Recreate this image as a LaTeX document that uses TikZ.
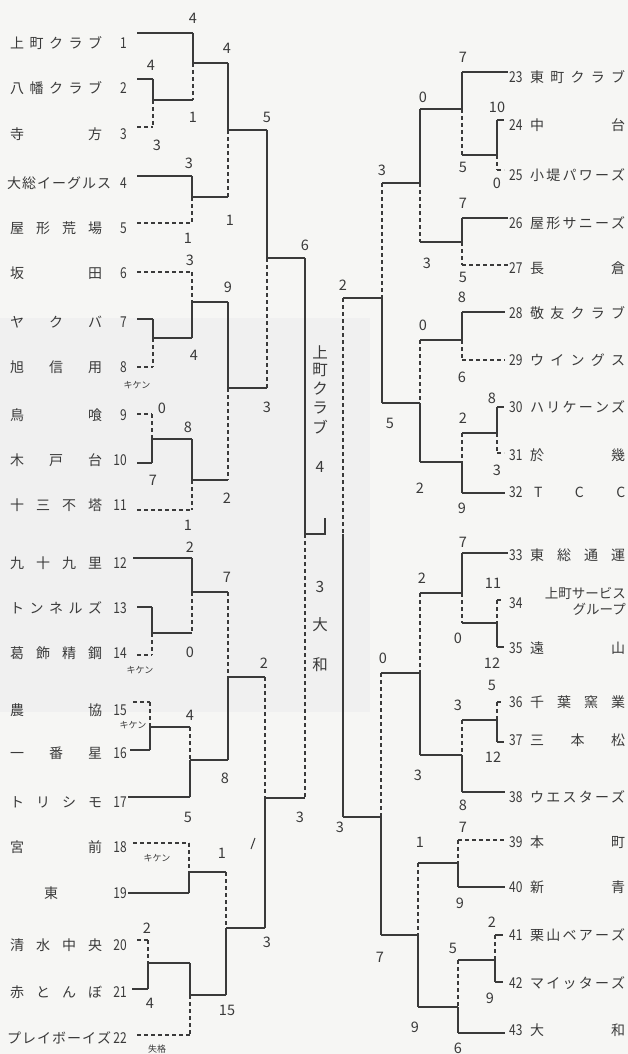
\documentclass[tikz,border=0pt]{standalone}
\usepackage{fontspec}
\setmainfont{Noto Sans CJK JP}
\definecolor{ink}{HTML}{3A3A3A}
\definecolor{paper}{HTML}{F6F6F4}
\tikzset{
  sol/.style={line width=1.2pt, draw=ink},
  dsh/.style={line width=1.2pt, draw=ink, dash pattern=on 4pt off 3pt},
  sc/.style={font=\fontsize{14.5}{14.5}\selectfont, text=ink, inner sep=0pt},
  num/.style={font=\fontsize{15}{15}\selectfont, text=ink, inner sep=0pt},
  lbl/.style={font=\fontsize{14}{14}\selectfont, text=ink, inner sep=0pt},
  tiny/.style={font=\fontsize{9}{9}\selectfont, text=ink, inner sep=0pt},
  ctr/.style={font=\fontsize{15.5}{15.5}\selectfont, text=ink, inner sep=0pt}
}
\newcommand\nd[1]{\scalebox{0.8}[1]{#1}}
% match: x, ytop, yjunction, ybottom, xnext, top style, bottom style
\newcommand\bm[7]{%
  \draw[#6] (#1,#2) -- (#1,#3);
  \draw[#7] (#1,#3) -- (#1,#4);
  \draw[sol] (#1,#3) -- (#5,#3);}
% team line: x1, x2, y, style
\newcommand\tl[4]{\draw[#4] (#1,#3) -- (#2,#3);}
% left team: number, y, text
\newcommand\lteam[3]{%
  \node[lbl,anchor=west] (L#1) at (10,#2) {\hbox to 92pt{#3}};
  \node[num,anchor=east] (N#1) at (127,#2) {\nd{#1}};}
\newcommand\lteamw[3]{%
  \node[lbl,anchor=west] (L#1) at (7,#2) {\hbox to 104pt{#3}};
  \node[num,anchor=east] (N#1) at (127,#2) {\nd{#1}};}
% right team: number, y, text
\newcommand\rteam[3]{%
  \node[num,anchor=west] (N#1) at (509,#2) {\nd{#1}};
  \node[lbl,anchor=west] (L#1) at (530,#2) {\hbox to 95pt{#3}};}
\newcommand\sco[3]{\node[sc] at (#1,#2) {#3};}
\begin{document}
\begin{tikzpicture}[x=1pt,y=-1pt]
\fill[paper] (0,0) rectangle (628,1054);
\fill[black!6] (0,318) rectangle (370,712);
\useasboundingbox (0,0) rectangle (628,1054);

% ---------------- left labels ----------------
\lteam{1}{43}{上\hfill 町\hfill ク\hfill ラ\hfill ブ}
\lteam{2}{88}{八\hfill 幡\hfill ク\hfill ラ\hfill ブ}
\lteam{3}{134}{寺\hfill 方}
\lteamw{4}{183}{大\hfill 総\hfill イ\hfill ー\hfill グ\hfill ル\hfill ス}
\lteam{5}{228}{屋\hfill 形\hfill 荒\hfill 場}
\lteam{6}{273}{坂\hfill 田}
\lteam{7}{322}{ヤ\hfill ク\hfill バ}
\lteam{8}{367}{旭\hfill 信\hfill 用}
\lteam{9}{415}{鳥\hfill 喰}
\lteam{10}{460}{木\hfill 戸\hfill 台}
\lteam{11}{505}{十\hfill 三\hfill 不\hfill 塔}
\lteam{12}{563}{九\hfill 十\hfill 九\hfill 里}
\lteam{13}{608}{ト\hfill ン\hfill ネ\hfill ル\hfill ズ}
\lteam{14}{653}{葛\hfill 飾\hfill 精\hfill 鋼}
\lteam{15}{710}{農\hfill 協}
\lteam{16}{753}{一\hfill 番\hfill 星}
\lteam{17}{802}{ト\hfill リ\hfill シ\hfill モ}
\lteam{18}{847}{宮\hfill 前}
\node[lbl] (L19) at (51,893) {東};
\node[num,anchor=east] (N19) at (127,893) {\nd{19}};
\lteam{20}{945}{清\hfill 水\hfill 中\hfill 央}
\lteam{21}{992}{赤\hfill と\hfill ん\hfill ぼ}
\lteamw{22}{1038}{プ\hfill レ\hfill イ\hfill ボ\hfill ー\hfill イ\hfill ズ}

% ---------------- left team lines ----------------
\tl{137}{193}{33}{sol}
\tl{137}{153}{79}{sol}
\tl{137}{153}{127}{dsh}
\tl{137}{192}{176}{sol}
\tl{137}{192}{223}{dsh}
\tl{137}{192}{272}{dsh}
\tl{137}{153}{319}{sol}
\tl{137}{153}{367}{dsh}
\tl{137}{152}{414}{dsh}
\tl{137}{152}{463}{sol}
\tl{137}{192}{510}{dsh}
\tl{133}{192}{558}{sol}
\tl{137}{152}{607}{sol}
\tl{137}{152}{655}{dsh}
\tl{133}{150}{702}{dsh}
\tl{130}{150}{750}{sol}
\tl{128}{190}{797}{sol}
\tl{133}{189}{843}{dsh}
\tl{128}{189}{893}{sol}
\tl{137}{148}{940}{dsh}
\tl{132}{148}{989}{sol}
\tl{137}{190}{1035}{dsh}

% ---------------- left matches ----------------
\bm{153}{79}{100}{127}{193}{sol}{dsh}
\bm{193}{33}{63}{100}{228}{sol}{dsh}
\bm{192}{176}{197}{223}{228}{sol}{dsh}
\bm{228}{63}{130}{197}{267}{sol}{dsh}
\bm{153}{319}{338}{367}{192}{sol}{dsh}
\bm{192}{272}{302}{338}{228}{dsh}{sol}
\bm{152}{414}{439}{463}{192}{dsh}{sol}
\bm{192}{439}{480}{510}{228}{sol}{dsh}
\bm{228}{302}{388}{480}{267}{sol}{dsh}
\bm{267}{130}{258}{388}{305}{sol}{dsh}
\bm{152}{607}{633}{655}{192}{sol}{dsh}
\bm{192}{558}{592}{633}{228}{sol}{dsh}
\bm{150}{702}{727}{750}{190}{dsh}{sol}
\bm{190}{727}{760}{797}{228}{dsh}{sol}
\bm{228}{592}{677}{760}{265}{dsh}{sol}
\bm{189}{843}{872}{893}{226}{dsh}{sol}
\bm{148}{940}{963}{989}{190}{dsh}{sol}
\bm{190}{963}{995}{1035}{226}{sol}{dsh}
\bm{226}{872}{928}{995}{265}{dsh}{sol}
\bm{265}{677}{798}{928}{305}{dsh}{sol}
% left final branch
\draw[sol] (305,258) -- (305,534);
\draw[dsh] (305,534) -- (305,798);
\draw[sol] (305,534) -- (325,534) -- (325,518);
\draw[line width=1pt, draw=ink] (251,849) -- (255,838);

% ---------------- left scores ----------------
\sco{193}{18}{4}  \sco{151}{65}{4}  \sco{157}{145}{3}
\sco{227}{48}{4}  \sco{193}{117}{1} \sco{267}{117}{5}
\sco{189}{163}{3} \sco{188}{238}{1} \sco{230}{220}{1}
\sco{305}{245}{6} \sco{190}{260}{3} \sco{228}{287}{9}
\sco{194}{355}{4} \sco{267}{407}{3} \sco{162}{408}{0}
\sco{188}{427}{8} \sco{153}{480}{7} \sco{227}{498}{2}
\sco{188}{525}{1} \sco{190}{547}{2} \sco{227}{577}{7}
\sco{190}{652}{0} \sco{264}{663}{2} \sco{190}{715}{4}
\sco{225}{778}{8} \sco{188}{817}{5} \sco{300}{817}{3}
\sco{222}{853}{1} \sco{147}{928}{2} \sco{267}{942}{3}
\sco{150}{1003}{4} \sco{227}{1010}{15}
\node[tiny] (k8) at (137,385) {キケン};
\node[tiny] (k14) at (140,670) {キケン};
\node[tiny] (k15) at (133,725) {キケン};
\node[tiny] (k18) at (157,858) {キケン};
\node[tiny] (s22) at (157,1049) {失格};

% ---------------- centre ----------------
\node[ctr] (c1) at (320,352) {上};
\node[ctr] (c2) at (320,370.5) {町};
\node[ctr] (c3) at (320,389) {ク};
\node[ctr] (c4) at (320,408) {ラ};
\node[ctr] (c5) at (320,427) {ブ};
\node[ctr] (c6) at (320,467) {4};
\node[ctr] (c7) at (320,587) {3};
\node[ctr] (c8) at (320,625) {大};
\node[ctr] (c9) at (320,665) {和};

% ---------------- right labels ----------------
\rteam{23}{77}{東\hfill 町\hfill ク\hfill ラ\hfill ブ}
\rteam{24}{125}{中\hfill 台}
\rteam{25}{175}{小\hfill 堤\hfill パ\hfill ワ\hfill ー\hfill ズ}
\rteam{26}{223}{屋\hfill 形\hfill サ\hfill ニ\hfill ー\hfill ズ}
\rteam{27}{268}{長\hfill 倉}
\rteam{28}{313}{敬\hfill 友\hfill ク\hfill ラ\hfill ブ}
\rteam{29}{360}{ウ\hfill イ\hfill ン\hfill グ\hfill ス}
\rteam{30}{407}{ハ\hfill リ\hfill ケ\hfill ー\hfill ン\hfill ズ}
\rteam{31}{455}{於\hfill 幾}
\rteam{32}{492}{\hspace{4pt}T\hfill C\hfill C}
\rteam{33}{555}{東\hfill 総\hfill 通\hfill 運}
\node[num,anchor=west] (N34) at (509,603) {\nd{34}};
\node[font=\fontsize{13.5}{13.5}\selectfont, text=ink, inner sep=0pt, anchor=east] (L34a) at (626,593) {上町サービス};
\node[font=\fontsize{13.5}{13.5}\selectfont, text=ink, inner sep=0pt, anchor=east] (L34b) at (626,609) {グループ};
\rteam{35}{648}{遠\hfill 山}
\rteam{36}{702}{千\hfill 葉\hfill 窯\hfill 業}
\rteam{37}{740}{三\hfill 本\hfill 松}
\rteam{38}{797}{ウ\hfill エ\hfill ス\hfill タ\hfill ー\hfill ズ}
\rteam{39}{842}{本\hfill 町}
\rteam{40}{887}{新\hfill 青}
\rteam{41}{935}{栗\hfill 山\hfill ベ\hfill ア\hfill ー\hfill ズ}
\rteam{42}{983}{マ\hfill イ\hfill ッ\hfill タ\hfill ー\hfill ズ}
\rteam{43}{1030}{大\hfill 和}

% ---------------- right team lines ----------------
\tl{462}{508}{72}{sol}
\tl{497}{504}{120}{sol}
\tl{497}{504}{170}{dsh}
\tl{462}{508}{218}{sol}
\tl{462}{508}{265}{dsh}
\tl{462}{505}{312}{sol}
\tl{462}{505}{360}{dsh}
\tl{497}{504}{407}{sol}
\tl{497}{504}{453}{dsh}
\tl{462}{505}{493}{sol}
\tl{462}{508}{553}{sol}
\tl{497}{503}{600}{dsh}
\tl{497}{504}{647}{sol}
\tl{497}{503}{702}{dsh}
\tl{497}{504}{742}{sol}
\tl{462}{505}{792}{sol}
\tl{458}{505}{840}{dsh}
\tl{458}{505}{887}{sol}
\tl{495}{503}{935}{sol}
\tl{495}{503}{982}{sol}
\tl{458}{505}{1033}{sol}

% ---------------- right matches ----------------
\bm{497}{120}{155}{170}{462}{sol}{dsh}
\bm{462}{72}{109}{155}{420}{sol}{dsh}
\bm{462}{218}{242}{265}{420}{sol}{dsh}
\bm{420}{109}{183}{242}{382}{sol}{dsh}
\bm{462}{312}{340}{360}{420}{sol}{dsh}
\bm{497}{407}{433}{453}{462}{sol}{dsh}
\bm{462}{433}{462}{493}{420}{dsh}{sol}
\bm{420}{340}{403}{462}{382}{dsh}{sol}
\bm{382}{183}{298}{403}{343}{dsh}{sol}
\bm{497}{600}{623}{647}{462}{dsh}{sol}
\bm{462}{553}{593}{623}{420}{sol}{dsh}
\bm{497}{702}{720}{742}{462}{dsh}{sol}
\bm{462}{720}{755}{792}{420}{dsh}{sol}
\bm{420}{593}{673}{755}{381}{dsh}{sol}
\bm{458}{840}{863}{887}{418}{dsh}{sol}
\bm{495}{935}{960}{982}{458}{dsh}{sol}
\bm{458}{960}{1007}{1033}{418}{dsh}{sol}
\bm{418}{863}{935}{1007}{381}{dsh}{sol}
\bm{381}{673}{817}{935}{343}{dsh}{sol}
\draw[dsh] (343,298) -- (343,534);
\draw[sol] (343,534) -- (343,817);

% ---------------- right scores ----------------
\sco{463}{57}{7}   \sco{423}{97}{0}   \sco{497}{107}{10}
\sco{463}{167}{5}  \sco{382}{170}{3}  \sco{497}{183}{0}
\sco{463}{203}{7}  \sco{427}{263}{3}  \sco{463}{277}{5}
\sco{343}{285}{2}  \sco{462}{297}{8}  \sco{423}{325}{0}
\sco{462}{377}{6}  \sco{492}{398}{8}  \sco{463}{418}{2}
\sco{390}{423}{5}  \sco{497}{470}{3}  \sco{420}{488}{2}
\sco{462}{508}{9}  \sco{463}{542}{7}  \sco{422}{578}{2}
\sco{493}{583}{11} \sco{458}{638}{0}  \sco{383}{658}{0}
\sco{492}{663}{12} \sco{492}{685}{5}  \sco{458}{705}{3}
\sco{493}{757}{12} \sco{418}{775}{3}  \sco{463}{805}{8}
\sco{463}{827}{7}  \sco{340}{827}{3}  \sco{420}{842}{1}
\sco{460}{903}{9}  \sco{492}{922}{2}  \sco{453}{948}{5}
\sco{380}{957}{7}  \sco{490}{998}{9}  \sco{415}{1027}{9}
\sco{458}{1048}{6}
\end{tikzpicture}
\end{document}
